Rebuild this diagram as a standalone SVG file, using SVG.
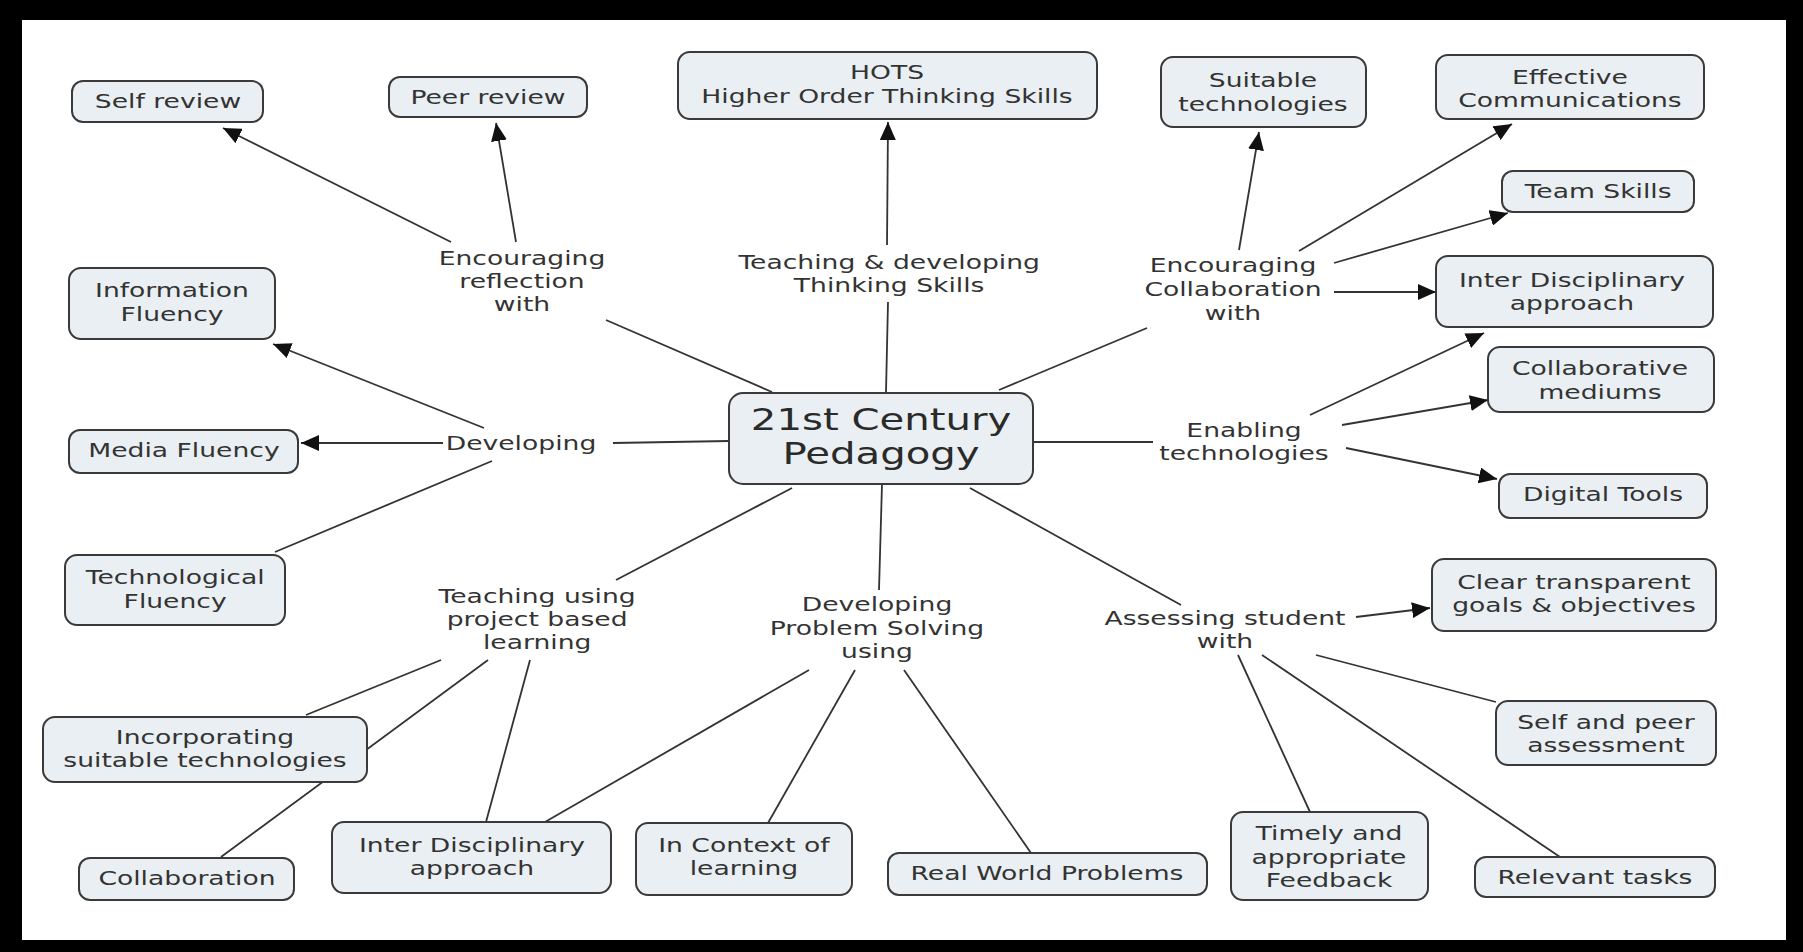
<svg xmlns="http://www.w3.org/2000/svg" width="1803" height="952" viewBox="0 0 1803 952">
<style>
.frame{fill:#000}
.page{fill:#fff}
.box{fill:#e9eff2;stroke:#3a3a3a;stroke-width:2}
.t{font-family:"DejaVu Sans",Verdana,sans-serif;font-size:20px;fill:#333;text-anchor:middle;transform-box:fill-box;transform-origin:center;transform:scaleX(1.33)}
.big{font-size:30px;fill:#2a2a2a;transform:scaleX(1.34)}
.c line{stroke:#333;stroke-width:1.8;fill:none}
.c .a{marker-end:url(#arr)}
</style>
<defs>
<marker id="arr" viewBox="0 0 18 16" refX="18" refY="8" markerWidth="18" markerHeight="16" markerUnits="userSpaceOnUse" orient="auto">
<path d="M0,0 L18,8 L0,16 z" fill="#111"/>
</marker>
</defs>
<rect class="frame" x="0" y="0" width="1803" height="952"/>
<rect class="page" x="22" y="20" width="1764" height="920"/>

<g id="connectors" class="c">
<line class="a" x1="451" y1="242" x2="223" y2="128"/>
<line class="a" x1="516" y1="242" x2="496" y2="123"/>
<line x1="606" y1="320" x2="772" y2="392"/>
<line x1="886" y1="392" x2="888" y2="302"/>
<line class="a" x1="887" y1="245" x2="888" y2="122"/>
<line x1="999" y1="390" x2="1147" y2="328"/>
<line class="a" x1="1239" y1="250" x2="1259" y2="132"/>
<line class="a" x1="1299" y1="251" x2="1512" y2="124"/>
<line class="a" x1="1334" y1="263" x2="1508" y2="213"/>
<line class="a" x1="1334" y1="292" x2="1436" y2="292"/>
<line x1="1033" y1="442" x2="1153" y2="442"/>
<line class="a" x1="1310" y1="415" x2="1484" y2="333"/>
<line class="a" x1="1342" y1="425" x2="1488" y2="400"/>
<line class="a" x1="1346" y1="448" x2="1497" y2="479"/>
<line x1="613" y1="443" x2="729" y2="441"/>
<line class="a" x1="484" y1="428" x2="273" y2="344"/>
<line class="a" x1="443" y1="443" x2="301" y2="443"/>
<line x1="492" y1="461" x2="275" y2="552"/>
<line x1="792" y1="488" x2="616" y2="580"/>
<line x1="441" y1="660" x2="306" y2="715"/>
<line x1="488" y1="660" x2="221" y2="857"/>
<line x1="530" y1="660" x2="486" y2="822"/>
<line x1="882" y1="484" x2="879" y2="590"/>
<line x1="809" y1="670" x2="545" y2="822"/>
<line x1="855" y1="670" x2="768" y2="823"/>
<line x1="904" y1="670" x2="1031" y2="853"/>
<line x1="970" y1="488" x2="1181" y2="605"/>
<line class="a" x1="1356" y1="617" x2="1430" y2="608"/>
<line x1="1316" y1="655" x2="1496" y2="702"/>
<line x1="1238" y1="655" x2="1310" y2="812"/>
<line x1="1262" y1="655" x2="1560" y2="857"/>
</g>

<g id="central"><rect class="box" x="729" y="393" width="304" height="91" rx="14"/>
<text class="t big" x="881"><tspan x="881" y="430">21st Century</tspan><tspan x="881" y="464">Pedagogy</tspan></text></g>

<g id="self-review"><rect class="box" x="72" y="81" width="191" height="41" rx="11"/>
<text class="t" x="168" y="108">Self review</text></g>
<g id="peer-review"><rect class="box" x="389" y="77" width="198" height="40" rx="11"/>
<text class="t" x="488" y="104">Peer review</text></g>
<g id="hots"><rect class="box" x="678" y="52" width="419" height="67" rx="12"/>
<text class="t"><tspan x="887" y="79">HOTS</tspan><tspan x="887" y="103">Higher Order Thinking Skills</tspan></text></g>
<g id="suitable-tech"><rect class="box" x="1161" y="57" width="205" height="70" rx="12"/>
<text class="t"><tspan x="1263" y="87">Suitable</tspan><tspan x="1263" y="111">technologies</tspan></text></g>
<g id="effective-comm"><rect class="box" x="1436" y="55" width="268" height="64" rx="12"/>
<text class="t"><tspan x="1570" y="84">Effective</tspan><tspan x="1570" y="107">Communications</tspan></text></g>
<g id="team-skills"><rect class="box" x="1502" y="171" width="192" height="41" rx="11"/>
<text class="t" x="1598" y="198">Team Skills</text></g>
<g id="inter-disc-r"><rect class="box" x="1436" y="256" width="277" height="71" rx="12"/>
<text class="t"><tspan x="1572" y="287">Inter Disciplinary</tspan><tspan x="1572" y="310">approach</tspan></text></g>
<g id="collab-mediums"><rect class="box" x="1488" y="347" width="226" height="65" rx="12"/>
<text class="t"><tspan x="1600" y="375">Collaborative</tspan><tspan x="1600" y="399">mediums</tspan></text></g>
<g id="digital-tools"><rect class="box" x="1499" y="474" width="208" height="44" rx="11"/>
<text class="t" x="1603" y="501">Digital Tools</text></g>
<g id="clear-goals"><rect class="box" x="1432" y="559" width="284" height="72" rx="12"/>
<text class="t"><tspan x="1574" y="589">Clear transparent</tspan><tspan x="1574" y="612">goals &amp; objectives</tspan></text></g>
<g id="self-peer"><rect class="box" x="1496" y="701" width="220" height="64" rx="12"/>
<text class="t"><tspan x="1606" y="729">Self and peer</tspan><tspan x="1606" y="752">assessment</tspan></text></g>
<g id="relevant-tasks"><rect class="box" x="1475" y="857" width="240" height="40" rx="11"/>
<text class="t" x="1595" y="884">Relevant tasks</text></g>
<g id="timely"><rect class="box" x="1231" y="812" width="197" height="88" rx="12"/>
<text class="t"><tspan x="1329" y="840">Timely and</tspan><tspan x="1329" y="864">appropriate</tspan><tspan x="1329" y="887">Feedback</tspan></text></g>
<g id="real-world"><rect class="box" x="888" y="853" width="319" height="42" rx="11"/>
<text class="t" x="1047" y="880">Real World Problems</text></g>
<g id="in-context"><rect class="box" x="636" y="823" width="216" height="72" rx="12"/>
<text class="t"><tspan x="744" y="852">In Context of</tspan><tspan x="744" y="875">learning</tspan></text></g>
<g id="inter-disc-b"><rect class="box" x="332" y="822" width="279" height="71" rx="12"/>
<text class="t"><tspan x="472" y="852">Inter Disciplinary</tspan><tspan x="472" y="875">approach</tspan></text></g>
<g id="collaboration"><rect class="box" x="79" y="858" width="215" height="42" rx="11"/>
<text class="t" x="187" y="885">Collaboration</text></g>
<g id="incorporating"><rect class="box" x="43" y="717" width="324" height="65" rx="12"/>
<text class="t"><tspan x="205" y="744">Incorporating</tspan><tspan x="205" y="767">suitable technologies</tspan></text></g>
<g id="tech-fluency"><rect class="box" x="65" y="555" width="220" height="70" rx="12"/>
<text class="t"><tspan x="175" y="584">Technological</tspan><tspan x="175" y="608">Fluency</tspan></text></g>
<g id="media-fluency"><rect class="box" x="69" y="430" width="229" height="43" rx="11"/>
<text class="t" x="184" y="457">Media Fluency</text></g>
<g id="info-fluency"><rect class="box" x="69" y="268" width="206" height="71" rx="12"/>
<text class="t"><tspan x="172" y="297">Information</tspan><tspan x="172" y="321">Fluency</tspan></text></g>

<g id="lbl-reflection"><text class="t"><tspan x="522" y="265">Encouraging</tspan><tspan x="522" y="288">reflection</tspan><tspan x="522" y="311">with</tspan></text></g>
<g id="lbl-thinking"><text class="t"><tspan x="889" y="269">Teaching &amp; developing</tspan><tspan x="889" y="292">Thinking Skills</tspan></text></g>
<g id="lbl-collab"><text class="t"><tspan x="1233" y="272">Encouraging</tspan><tspan x="1233" y="296">Collaboration</tspan><tspan x="1233" y="320">with</tspan></text></g>
<g id="lbl-developing"><text class="t" x="521" y="450">Developing</text></g>
<g id="lbl-enabling"><text class="t"><tspan x="1244" y="437">Enabling</tspan><tspan x="1244" y="460">technologies</tspan></text></g>
<g id="lbl-project"><text class="t"><tspan x="537" y="603">Teaching using</tspan><tspan x="537" y="626">project based</tspan><tspan x="537" y="649">learning</tspan></text></g>
<g id="lbl-problem"><text class="t"><tspan x="877" y="611">Developing</tspan><tspan x="877" y="635">Problem Solving</tspan><tspan x="877" y="658">using</tspan></text></g>
<g id="lbl-assessing"><text class="t"><tspan x="1225" y="625">Assessing student</tspan><tspan x="1225" y="648">with</tspan></text></g>
</svg>
